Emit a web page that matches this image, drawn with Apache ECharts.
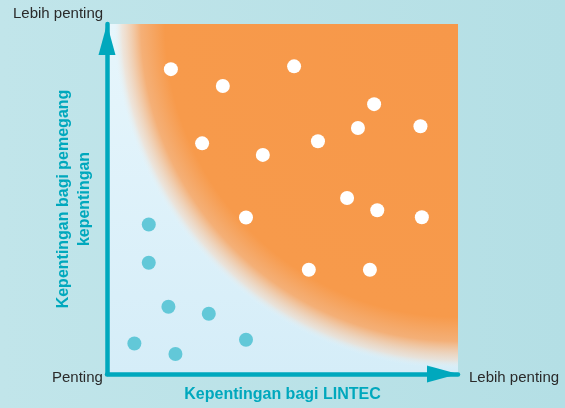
<!DOCTYPE html>
<html>
<head>
<meta charset="utf-8">
<script src="https://cdn.jsdelivr.net/npm/echarts@6/dist/echarts.min.js"></script>
<style>
html,body{margin:0;padding:0;background:#BCE2E7;}
#c{width:565px;height:408px;}
</style>
</head>
<body>
<div id="c"></div>
<script>
// Data (0-100 importance scale)
const highPointsX = [18.2, 33.0, 27.1, 44.4, 53.3, 76.1, 71.5, 89.3, 60.1, 68.4, 77.0, 89.7, 57.5, 74.9, 39.6];
const highPointsY = [87.1, 82.3, 65.9, 62.6, 87.9, 77.1, 70.3, 70.8, 66.5, 50.3, 46.8, 44.8, 29.8, 29.8, 44.7];
const lowPointsX = [11.9, 11.9, 17.5, 29.0, 7.8, 19.5, 39.6];
const lowPointsY = [42.7, 31.8, 19.2, 17.2, 8.7, 5.7, 9.8];
const xAxisTitle = 'Kepentingan bagi LINTEC';
const yAxisTitle = 'Kepentingan bagi pemegang\nkepentingan';
const lowLabel = 'Penting';
const highLabel = 'Lebih penting';

const teal = '#00A8BD';
const font = '"Liberation Sans Narrow", "Liberation Sans", sans-serif';

const chart = echarts.init(document.getElementById('c'));
chart.setOption({
  animation: false,
  backgroundColor: new echarts.graphic.LinearGradient(0, 0, 1, 0, [
    {offset: 0, color: '#C1E5EA'}, {offset: 1, color: '#B4DFE5'}
  ]),
  grid: {
    left: 107, right: 107, top: 24, bottom: 34,
    show: true, borderWidth: 0,
    backgroundColor: new echarts.graphic.LinearGradient(0, 0, 0, 1, [
      {offset: 0, color: '#E7F6FC'}, {offset: 1, color: '#D5EDF8'}
    ])
  },
  xAxis: {
    type: 'value', min: 0, max: 100,
    splitLine: {show: false}, axisTick: {show: false}, axisLabel: {show: false},
    axisLine: {show: true, onZero: false, lineStyle: {color: teal, width: 4.5},
      symbol: ['none', 'triangle'], symbolSize: [17, 31], symbolOffset: [0, -15.5]},
    name: xAxisTitle, nameLocation: 'middle', nameGap: 13,
    nameTextStyle: {color: teal, fontFamily: font, fontWeight: 'bold', fontSize: 16}
  },
  yAxis: {
    type: 'value', min: 0, max: 100,
    splitLine: {show: false}, axisTick: {show: false}, axisLabel: {show: false},
    axisLine: {show: true, onZero: false, lineStyle: {color: teal, width: 4.5},
      symbol: ['none', 'triangle'], symbolSize: [17, 31], symbolOffset: [0, -15.5]},
    name: yAxisTitle, nameLocation: 'middle', nameGap: 12,
    nameTextStyle: {color: teal, fontFamily: font, fontWeight: 'bold', fontSize: 16, lineHeight: 21, align: 'center'}
  },
  series: [
    {
      type: 'scatter', z: 1, data: [], silent: true,
      markArea: {
        silent: true,
        itemStyle: {
          color: new echarts.graphic.RadialGradient(1, 0, 0.985, [
            {offset: 0, color: '#F7984A'},
            {offset: 0.85, color: '#F79A4B'},
            {offset: 0.92, color: 'rgba(246,170,108,0.92)'},
            {offset: 0.975, color: 'rgba(243,218,198,0.6)'},
            {offset: 1, color: 'rgba(230,245,252,0)'}
          ])
        },
        data: [[{coord: [0, 0]}, {coord: [100, 100]}]]
      }
    },
    {
      type: 'scatter', z: 3, symbolSize: 14,
      itemStyle: {color: '#FFFFFF', opacity: 1},
      data: highPointsX.map((x, i) => [x, highPointsY[i]])
    },
    {
      type: 'scatter', z: 3, symbolSize: 14,
      itemStyle: {color: '#62C8D8', opacity: 1},
      data: lowPointsX.map((x, i) => [x, lowPointsY[i]])
    }
  ],
  graphic: [
    {type: 'text', left: 13, top: 6, style: {text: highLabel, fill: '#2A2A2A', font: '15px ' + font}},
    {type: 'text', left: 52, top: 370, style: {text: lowLabel, fill: '#2A2A2A', font: '15px ' + font}},
    {type: 'text', left: 469, top: 370, style: {text: highLabel, fill: '#2A2A2A', font: '15px ' + font}}
  ]
});
</script>
</body>
</html>
